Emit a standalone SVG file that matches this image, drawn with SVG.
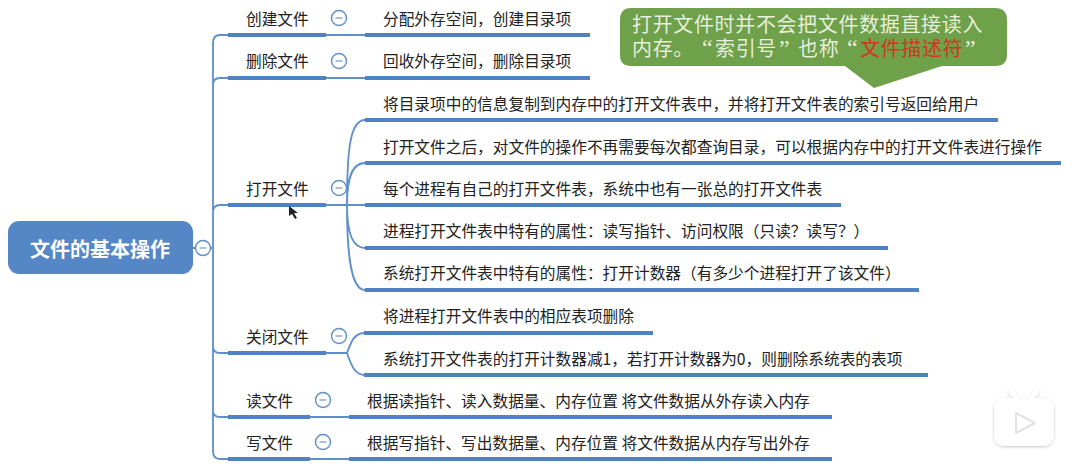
<svg xmlns="http://www.w3.org/2000/svg" width="1080" height="467" viewBox="0 0 1080 467">
<defs>
<style>
text{font-family:"Noto Sans CJK SC","Noto Sans",sans-serif;fill:#222;font-size:15.7px}
.k{fill:#e6eedc;font-size:20px;letter-spacing:.65px}
.q{font-family:"Liberation Serif",serif;font-size:24px}
.c{fill:none;stroke:#5f8fca;stroke-width:1.8}
.u{fill:none;stroke:#4f82c3;stroke-width:4}
.t{fill:#fff;stroke:#5f8fca;stroke-width:1.4}
.m{fill:none;stroke:#7f9fcb;stroke-width:1.3}
</style>
<g id="tg"><circle class="t" r="7.5"/><path class="m" d="M-3.500 0H3.500"/></g>
<filter id="sh" x="-20%" y="-20%" width="140%" height="140%"><feDropShadow dx="0" dy="1" stdDeviation="1.5" flood-color="#000" flood-opacity=".22"/></filter>
</defs>
<rect width="1080" height="467" fill="#fff"/>
<g id="connectors">
<path class="c" d="M193 248H213M228 35H220Q213 35 213 43V451Q213 459 220 459H228M228 78H220Q213 78 213 85M228 205H220Q213 205 213 212M213 346Q213 353 220 353H228M213 411Q213 417 220 417H228"/>
<path class="c" d="M326 35H365M326 78H365M326 205H365M326 353H347M310 417H349M310 459H349"/>
<path class="c" d="M347 205C347 150 350 120 365 120M347 205C347 183 350 163 365 163M347 205C347 228 351 248 365 248M347 205C347 255 351 290 365 290M347 353C351 342 354 333 365 333M347 353C351 364 354 375 365 375"/>
</g>
<g id="root"><rect x="8" y="221" width="185" height="53" rx="11" fill="#5586c6"/><text x="100" y="257" text-anchor="middle" style="fill:#fff;font-size:20px;font-weight:700">文件的基本操作</text><use href="#tg" x="203" y="248"/></g>
<g id="n1"><text x="246" y="25">创建文件</text><path class="u" d="M228 35H326"/><use href="#tg" x="339" y="18"/></g>
<g id="n1a"><text x="383" y="25">分配外存空间，创建目录项</text><path class="u" d="M365 35H590"/></g>
<g id="n2"><text x="246" y="67">删除文件</text><path class="u" d="M228 78H326"/><use href="#tg" x="339" y="61"/></g>
<g id="n2a"><text x="383" y="67">回收外存空间，删除目录项</text><path class="u" d="M365 78H590"/></g>
<g id="n3"><text x="246" y="195">打开文件</text><path class="u" d="M228 205H326"/><use href="#tg" x="339" y="188"/></g>
<g id="n3a"><text x="383" y="110">将目录项中的信息复制到内存中的打开文件表中，并将打开文件表的索引号返回给用户</text><path class="u" d="M365 120H998"/></g>
<g id="n3b"><text x="383" y="153">打开文件之后，对文件的操作不再需要每次都查询目录，可以根据内存中的打开文件表进行操作</text><path class="u" d="M365 163H1061"/></g>
<g id="n3c"><text x="383" y="195">每个进程有自己的打开文件表，系统中也有一张总的打开文件表</text><path class="u" d="M365 205H841"/></g>
<g id="n3d"><text x="383" y="237">进程打开文件表中特有的属性：读写指针、访问权限（只读？读写？）</text><path class="u" d="M365 248H888"/></g>
<g id="n3e"><text x="383" y="279">系统打开文件表中特有的属性：打开计数器（有多少个进程打开了该文件）</text><path class="u" d="M365 290H919"/></g>
<g id="n4"><text x="246" y="343">关闭文件</text><path class="u" d="M228 353H326"/><use href="#tg" x="339" y="336"/></g>
<g id="n4a"><text x="383" y="322">将进程打开文件表中的相应表项删除</text><path class="u" d="M364 333H653"/></g>
<g id="n4b"><text x="383" y="365">系统打开文件表的打开计数器减1，若打开计数器为0，则删除系统表的表项</text><path class="u" d="M364 375H928"/></g>
<g id="n5"><text x="246" y="407">读文件</text><path class="u" d="M228 417H310"/><use href="#tg" x="323" y="400"/></g>
<g id="n5a"><text x="367" y="407">根据读指针、读入数据量、内存位置 将文件数据从外存读入内存</text><path class="u" d="M349 417H832"/></g>
<g id="n6"><text x="246" y="449">写文件</text><path class="u" d="M228 459H310"/><use href="#tg" x="323" y="442"/></g>
<g id="n6a"><text x="367" y="449">根据写指针、写出数据量、内存位置 将文件数据从内存写出外存</text><path class="u" d="M349 459H832"/></g>
<g id="callout"><path d="M631 8H995Q1007 8 1007 20V55Q1007 66 995 66H942L874 88L845 66H631Q620 66 620 55V20Q620 8 631 8Z" fill="#6fa04a"/>
<text x="632" y="32" class="k">打开文件时并不会把文件数据直接读入</text>
<text y="56" class="k"><tspan x="632">内存。</tspan><tspan x="702" class="q">“</tspan><tspan x="715">索引号</tspan><tspan x="779" class="q">”</tspan><tspan x="798">也称</tspan><tspan x="847" class="q">“</tspan><tspan x="860" style="fill:#d8321f">文件描述符</tspan><tspan x="965" class="q">”</tspan></text></g>
<g id="cursor"><path d="M289 206V216L292 214L295 219L297 218L294 213H298Z" fill="#222"/></g>
<g id="logo" filter="url(#sh)"><path d="M1011 391L1017 399M1037 391L1031 399" stroke="#fff" stroke-width="5" stroke-linecap="round"/><rect x="994" y="398" width="60" height="48" rx="11" fill="#fff"/><path d="M1016 413V433L1035 423Z" fill="#fff" stroke="#e2e2e2" stroke-width="2" stroke-linejoin="round"/></g>
</svg>
